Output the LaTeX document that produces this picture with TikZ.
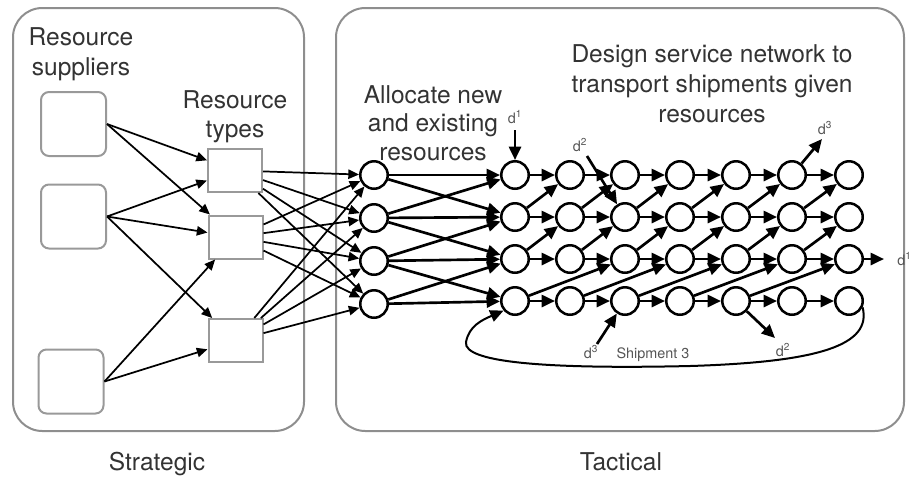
\documentclass[tikz,border=0pt]{standalone}
\usepackage{fontspec}
\setmainfont{TeX Gyre Heros}
\usetikzlibrary{arrows.meta}
\definecolor{txt}{HTML}{333333}
\definecolor{lbl}{HTML}{555555}
\definecolor{panelgray}{HTML}{8E8E8E}
\definecolor{boxgray}{HTML}{999999}
\begin{document}
\begin{tikzpicture}[x=0.75pt,y=-0.75pt,
  panel/.style={draw=panelgray, line width=1.5pt, rounded corners=22pt},
  supbox/.style={draw=boxgray, line width=1.5pt, rounded corners=6pt, minimum width=48.75pt, minimum height=48pt, inner sep=0pt},
  typebox/.style={draw=boxgray, line width=1.5pt, minimum width=40.5pt, minimum height=32.25pt, inner sep=0pt},
  st/.style={circle, draw=black, line width=1.9pt, minimum size=20.6pt, inner sep=0pt},
  arr/.style={-{Triangle[length=8pt,width=7pt]}, line width=1.3pt},
  narr/.style={-{Triangle[length=10pt,width=9pt]}, line width=2pt},
  loopline/.style={-{Triangle[length=10pt,width=9pt]}, line width=1.5pt},
  big/.style={font=\fontsize{18.4}{22}\selectfont, text=txt, inner sep=0pt, anchor=base},
  small/.style={font=\fontsize{10.8}{13}\selectfont, text=lbl, inner sep=0pt}
]
\useasboundingbox (0,0) rectangle (909,476);
\draw[panel] (13,8) rectangle (304,431);
\draw[panel] (336,8) rectangle (904,431);

% texts
\node[big] (t1) at (81,45) {Resource};
\node[big] (t2) at (81,75) {suppliers};
\node[big] (t3) at (235,108) {Resource};
\node[big] (t4) at (235,137) {types};
\node[big] (t5) at (433,103) {Allocate new};
\node[big] (t6) at (433,131) {and existing};
\node[big] (t7) at (433,160) {resources};
\node[big] (t8) at (712,62) {Design service network to};
\node[big] (t9) at (712,92) {transport shipments given};
\node[big] (t10) at (712,122) {resources};
\node[big] (t11) at (157,470) {Strategic};
\node[big] (t12) at (621,470) {Tactical};

\node[small] (dl1) at (515,117) {d\textsuperscript{1}};
\node[small] (dl2) at (580,145) {d\textsuperscript{2}};
\node[small] (dl3) at (591,352) {d\textsuperscript{3}};
\node[small] (ship) at (653,355) {Shipment 3};
\node[small] (dl4) at (783,350) {d\textsuperscript{2}};
\node[small] (dl5) at (825,128) {d\textsuperscript{3}};
\node[small,anchor=west] (dl6) at (897,259) {d\textsuperscript{1}};

% boxes
\node[supbox] (S1) at (73.5,124) {};
\node[supbox] (S2) at (73.5,216.5) {};
\node[supbox] (S3) at (71,381.5) {};
\node[typebox] (A) at (235,170.5) {};
\node[typebox] (B) at (235.5,237) {};
\node[typebox] (C) at (235.5,340.5) {};

% circles
\foreach \r/\y in {1/175,2/218,3/261,4/304}
  \node[st] (a\r) at (374,\y) {};
\foreach \c/\x in {1/515,2/570,3/625,4/680,5/736,6/792,7/849}
  \foreach \r/\y in {1/175,2/217,3/259,4/301}
    \node[st] (n\c\r) at (\x,\y) {};

% strategic arrows
\foreach \s/\t in {S1/A,S1/B,S2/A,S2/B,S2/C,S3/B,S3/C}
  \draw[arr] (\s.east) -- (\t);
\foreach \t in {A,B,C}
  \foreach \r in {1,...,4}
    \draw[arr] (\t) -- (a\r);

% allocation
\foreach \r/\q in {1/1,1/2,2/1,2/2,2/3,3/2,3/3,3/4,4/3,4/4}
  \draw[narr] (a\r) -- (n1\q);

% service network
\foreach \c/\d in {1/2,2/3,3/4,4/5,5/6,6/7}{
  \foreach \r in {1,...,4}
    \draw[narr] (n\c\r) -- (n\d\r);
  \draw[narr] (n\c2) -- (n\d1);
  \draw[narr] (n\c3) -- (n\d2);
}
\foreach \c/\e in {1/3,2/4,3/5,4/6,5/7}
  \draw[narr] (n\c4) -- (n\e3);

% demands
\coordinate (d1in) at (515,130);
\coordinate (d2in) at (587,156);
\coordinate (d3in) at (597,344);
\coordinate (d3out) at (822,139);
\coordinate (d2out) at (775,338);
\coordinate (d1out) at (884,259);
\draw[narr] (d1in) -- (n11);
\draw[narr] (d2in) -- (n32);
\draw[narr] (d3in) -- (n34);
\draw[narr] (n61) -- (d3out);
\draw[narr] (n54) -- (d2out);
\draw[narr] (n73) -- (d1out);

% loop
\draw[loopline] (n74.-25) .. controls (872,345) and (820,362) .. (690,366)
  .. controls (560,369) and (462,364) .. (466,342)
  .. controls (469,326) and (482,320) .. (n14.-140);
\end{tikzpicture}
\end{document}
